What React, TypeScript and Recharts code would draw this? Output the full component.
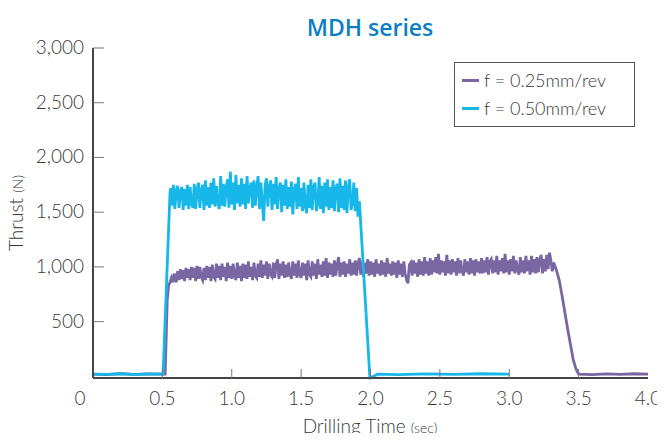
import { Line, LineChart, XAxis, YAxis } from "recharts";

// Time axis ticks (sec) and thrust ticks (N)
const timeTicks = [0, 0.5, 1.0, 1.5, 2.0, 2.5, 3.0, 3.5, 4.0];
const thrustTicks = [500, 1000, 1500, 2000, 2500, 3000];

const SAMPLE_STEP = 0.01;

// f = 0.25mm/rev : idle, ramp up, plateau samples, ramp down, idle
const slowIdleStart = [[0, 20], [0.1, 15], [0.2, 25], [0.3, 18], [0.4, 22], [0.52, 20]];
const slowRampUp = [[0.535, 700], [0.545, 830], [0.555, 860], [0.565, 900], [0.575, 860], [0.585, 940], [0.595, 880]];
const slowPlateauStart = 0.6;
const slowPlateau = [
  860, 960, 880, 980, 890, 970, 870, 990, 900, 980,
  880, 1000, 900, 990, 870, 1010, 890, 1000, 910, 880,
  990, 880, 1010, 900, 1000, 870, 1020, 910, 890, 1030,
  900, 1010, 880, 1030, 910, 1000, 870, 1040, 900, 1010,
  890, 1030, 920, 880, 1040, 900, 1010, 870, 1030, 900,
  1020, 890, 1050, 910, 1000, 880, 1040, 920, 900, 1030,
  910, 1060, 900, 1020, 920, 1050, 890, 1030, 930, 910,
  1040, 900, 1020, 1070, 890, 1030, 920, 1050, 900, 1020,
  910, 1040, 930, 890, 1050, 920, 1030, 900, 1060, 930,
  900, 1040, 920, 1030, 880, 1060, 930, 910, 1050, 920,
  1030, 890, 1070, 930, 1020, 910, 1050, 920, 1080, 900,
  1040, 930, 1030, 910, 1060, 920, 1020, 1090, 910, 1040,
  930, 1050, 910, 1030, 940, 1070, 920, 1040, 930, 1060,
  920, 1030, 1080, 930, 1050, 910, 1040, 940, 1070, 920,
  1050, 930, 1040, 910, 1070, 940, 1030, 920, 1060, 930,
  1040, 910, 1080, 940, 1030, 920, 1050, 930, 1040, 900,
  1060, 930, 1030, 910, 1050, 940, 880, 850, 1020, 1040,
  920, 1060, 940, 1040, 910, 1070, 930, 1050, 920, 1090,
  940, 1050, 920, 1080, 930, 1060, 950, 1090, 940, 1120,
  930, 1060, 950, 1050, 920, 1110, 940, 1060, 930, 1070,
  950, 1050, 920, 1080, 940, 1060, 960, 920, 1070, 950,
  1050, 930, 1080, 940, 1060, 920, 1070, 950, 1050, 940,
  1080, 940, 1060, 950, 1090, 930, 1050, 1070, 940, 1060,
  950, 1100, 930, 1060, 960, 1080, 940, 1120, 950, 1060,
  930, 1070, 960, 1100, 940, 1060, 970, 930, 1090, 950,
  1060, 940, 1100, 960, 1060, 930, 1100, 950, 1070, 940,
  1090, 950, 1060, 1110, 940, 1070, 960, 1110, 980, 1130,
  1060, 960, 1040,
];
const slowRampDown = [[3.34, 970], [3.36, 880], [3.38, 740], [3.4, 590], [3.42, 440], [3.44, 300], [3.46, 160], [3.48, 70], [3.5, 20]];
const slowIdleEnd = [[3.6, 15], [3.7, 22], [3.8, 18], [3.9, 24], [4.0, 20]];

// f = 0.50mm/rev
const fastIdleStart = [[0, 20], [0.1, 18], [0.2, 24], [0.3, 16], [0.4, 22], [0.505, 20]];
const fastRampUp = [[0.555, 1680]];
const fastPlateauStart = 0.56;
const fastPlateau = [
  1720, 1560, 1750, 1530, 1700, 1740, 1540, 1690, 1730, 1520,
  1710, 1560, 1750, 1530, 1730, 1580, 1540, 1760, 1530, 1700,
  1770, 1540, 1700, 1750, 1520, 1790, 1560, 1730, 1540, 1770,
  1570, 1810, 1550, 1740, 1590, 1530, 1830, 1560, 1760, 1550,
  1730, 1800, 1540, 1870, 1570, 1770, 1520, 1840, 1580, 1750,
  1550, 1810, 1570, 1760, 1530, 1830, 1580, 1730, 1770, 1540,
  1790, 1560, 1730, 1830, 1530, 1770, 1580, 1420, 1740, 1810,
  1550, 1730, 1790, 1520, 1760, 1570, 1820, 1530, 1720, 1770,
  1500, 1750, 1560, 1800, 1530, 1730, 1550, 1780, 1480, 1710,
  1760, 1530, 1820, 1550, 1720, 1510, 1770, 1560, 1490, 1750,
  1540, 1800, 1520, 1730, 1770, 1510, 1580, 1820, 1530, 1740,
  1490, 1770, 1550, 1800, 1520, 1730, 1540, 1790, 1510, 1720,
  1760, 1500, 1810, 1540, 1740, 1520, 1790, 1490, 1730, 1800,
  1520, 1580, 1770, 1510, 1720, 1460, 1600,
];
const fastRampDown = [[1.995, 0], [2.0, -15]];
const fastIdleEnd = [[2.05, 20], [2.2, 16], [2.4, 22], [2.6, 18], [2.8, 24], [3.0, 20]];

const toPoints = (pairs: number[][]) => pairs.map(([t, v]) => ({ t, v }));
const fromSamples = (start: number, values: number[]) =>
  values.map((v, i) => ({ t: +(start + i * SAMPLE_STEP).toFixed(3), v }));

const slowData = [
  ...toPoints(slowIdleStart),
  ...toPoints(slowRampUp),
  ...fromSamples(slowPlateauStart, slowPlateau),
  ...toPoints(slowRampDown),
  ...toPoints(slowIdleEnd),
];
const fastData = [
  ...toPoints(fastIdleStart),
  ...toPoints(fastRampUp),
  ...fromSamples(fastPlateauStart, fastPlateau),
  ...toPoints(fastRampDown),
  ...toPoints(fastIdleEnd),
];

const series = [
  { name: "f = 0.25mm/rev", color: "#7967a4", data: slowData },
  { name: "f = 0.50mm/rev", color: "#17b7ea", data: fastData },
];

const FONT = "Lato, 'Open Sans', sans-serif";
const TEXT = "#3a3a3a";
const AXIS = "#444";

const TimeTick = ({ x, y, payload }: any) => {
  const v = payload.value;
  const inner = v > 0 && v < 4;
  return (
    <g>
      {inner && <line x1={x} x2={x} y1={y} y2={y - 9} stroke="#777" strokeWidth={1} />}
      <text x={v === 0 ? x - 13 : x} y={y + 27} textAnchor="middle" fill={TEXT} fontSize={19} fontWeight={300} fontFamily={FONT}>
        {v === 0 ? "0" : v.toFixed(1)}
      </text>
    </g>
  );
};

const ThrustTick = ({ x, y, payload }: any) => (
  <g>
    <line x1={x} x2={x + 11} y1={y} y2={y} stroke="#777" strokeWidth={1} />
    <text x={x - 9} y={y + 6} textAnchor="end" fill={TEXT} fontSize={19} fontWeight={300} fontFamily={FONT}>
      {payload.value.toLocaleString("en-US")}
    </text>
  </g>
);

export default function App() {
  return (
    <div style={{ position: "relative", width: 657, height: 425, fontFamily: FONT }}>
      <div style={{ position: "absolute", left: 0, width: 724, top: 3, textAlign: "center", color: "#0b7fc4", fontSize: 23, fontWeight: 600, fontFamily: "'Open Sans', sans-serif" }}>
        MDH series
      </div>
      <div style={{ position: "absolute", left: 7, top: 205, transform: "translate(-50%, -50%) rotate(-90deg)", whiteSpace: "nowrap", color: TEXT, fontSize: 19, fontWeight: 300 }}>
        Thrust <span style={{ fontSize: 14 }}>(N)</span>
      </div>
      <div style={{ position: "absolute", left: 0, width: 724, top: 406, textAlign: "center", color: TEXT, fontSize: 19, fontWeight: 300 }}>
        Drilling Time <span style={{ fontSize: 14 }}>(sec)</span>
      </div>
      <div style={{ position: "absolute", top: 54, left: 446, width: 181, height: 65, boxSizing: "border-box", border: "1.5px solid #555", background: "#fff", padding: "3px 0 0 7px", fontSize: 18, fontWeight: 300, color: TEXT, lineHeight: "28px", zIndex: 2 }}>
        {series.map((s) => (
          <div key={s.name} style={{ display: "flex", alignItems: "center" }}>
            <span style={{ display: "inline-block", width: 17, height: 3, background: s.color, marginRight: 5 }} />
            {s.name}
          </div>
        ))}
      </div>
      <LineChart width={657} height={425} margin={{ top: 40, right: 17, left: 25, bottom: 25 }}>
        <XAxis
          xAxisId="main"
          type="number"
          dataKey="t"
          domain={[0, 4]}
          ticks={timeTicks}
          interval={0}
          allowDataOverflow
          height={30}
          tickSize={0}
          tickMargin={0}
          tick={<TimeTick />}
          axisLine={{ stroke: AXIS, strokeWidth: 2 }}
        />
        <XAxis xAxisId="frame" orientation="top" type="number" domain={[0, 4]} height={0} tick={false} tickLine={false} axisLine={{ stroke: AXIS, strokeWidth: 1.5 }} />
        <YAxis
          yAxisId="main"
          type="number"
          domain={[0, 3000]}
          ticks={thrustTicks}
          interval={0}
          width={60}
          tickSize={0}
          tickMargin={0}
          tick={<ThrustTick />}
          axisLine={{ stroke: AXIS, strokeWidth: 2 }}
        />
        <YAxis yAxisId="frame" orientation="right" domain={[0, 3000]} width={0} tick={false} tickLine={false} axisLine={{ stroke: AXIS, strokeWidth: 1.5 }} />
        {series.map((s) => (
          <Line
            key={s.name}
            xAxisId="main"
            yAxisId="main"
            data={s.data}
            dataKey="v"
            name={s.name}
            type="linear"
            stroke={s.color}
            strokeWidth={2.8}
            dot={false}
            isAnimationActive={false}
          />
        ))}
      </LineChart>
    </div>
  );
}
